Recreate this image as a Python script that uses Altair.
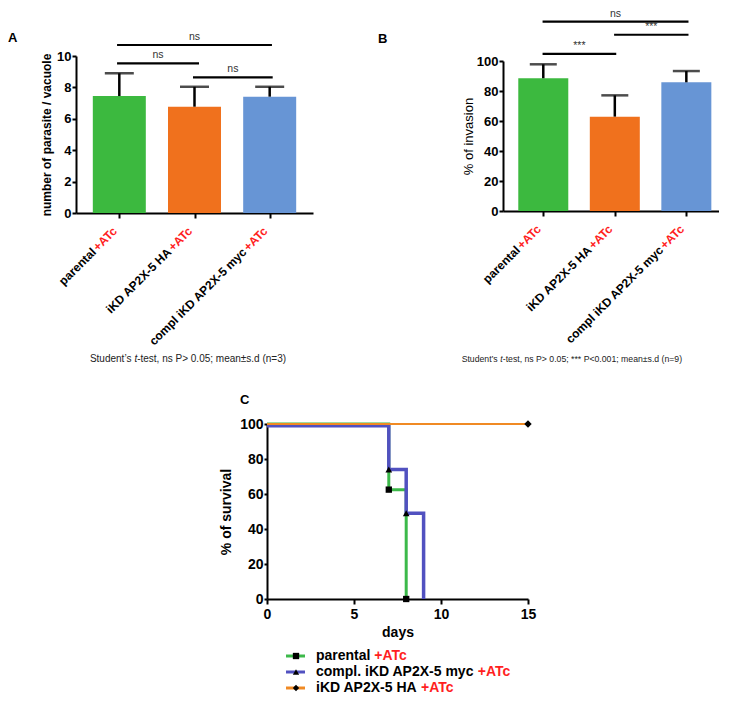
import altair as alt
import pandas as pd

FONT = "Liberation Sans"
RED = "#ff1f1f"

# ---------------- data ----------------
groups = ["parental", "iKD AP2X-5 HA", "compl iKD AP2X-5 myc"]
positions = [0, 1, 2]
suffix = "+ATc"
bar_colors = ["#3cb93f", "#f0711d", "#6795d5"]

a_mean = [7.45, 6.77, 7.41]
a_sd = [1.45, 1.27, 0.63]
a_ticks = [0, 2, 4, 6, 8, 10]

b_mean = [88.5, 62.9, 85.8]
b_sd = [9.3, 14.2, 7.5]
b_ticks = [0, 20, 40, 60, 80, 100]

a_sig_from = [-0.03, -0.03, 0.98]
a_sig_to = [2.03, 1.06, 2.04]
a_sig_y = [10.70, 9.53, 8.64]
a_sig_text = ["ns", "ns", "ns"]

b_sig_from = [-0.01, 0.99, -0.01]
b_sig_to = [1.02, 2.03, 2.03]
b_sig_y = [104.7, 117.5, 126.3]
b_sig_text = ["***", "***", "ns"]

a_caption = ["Student\u2019s ", "t", "-test, ns P> 0.05; mean\u00b1s.d (n=3)"]
b_caption = ["Student\u2019s ", "t", "-test, ns P> 0.05; *** P<0.001; mean\u00b1s.d (n=9)"]

surv_names = ["parental", "compl. iKD AP2X-5 myc", "iKD AP2X-5 HA"]
surv_colors = ["#3cb94a", "#5151c0", "#f08a24"]
surv_shapes = ["square", "triangle-up", "diamond"]
surv_sizes = [40, 45, 55]
surv_widths = [3, 3.5, 2.2]
parental_day = [0, 7, 8]
parental_pct = [100, 62.5, 0]
parental_mark = [0, 1, 1]
compl_day = [0, 7, 8, 9]
compl_pct = [99, 74, 49, 0]
compl_mark = [0, 1, 1, 0]
ikd_day = [0, 15]
ikd_pct = [100, 100]
ikd_mark = [0, 1]
c_xticks = [0, 5, 10, 15]
c_yticks = [0, 20, 40, 60, 80, 100]

# Arial / Liberation Sans advance widths (per 1000 em)
BOLD = {' ': 278, '+': 584, '-': 333, '.': 278, '2': 556, '5': 556, 'A': 722,
        'D': 722, 'H': 722, 'K': 722, 'P': 667, 'T': 611, 'X': 667, 'a': 556,
        'c': 556, 'e': 556, 'i': 278, 'l': 278, 'm': 889, 'n': 611, 'o': 611,
        'p': 611, 'r': 389, 't': 333, 'y': 556}
REG = {' ': 278, '*': 389, '(': 333, ')': 333, ',': 278, '-': 333, '.': 278,
       '0': 556, '1': 556, '3': 556, '5': 556, '9': 556, ';': 278, '<': 584,
       '=': 584, '>': 584, 'P': 667, 'S': 667, 'a': 556, 'd': 556, 'e': 556,
       'm': 833, 'n': 556, 's': 500, 't': 278, 'u': 556, '\u2019': 222, '\u00b1': 549}


def text_width(s, table, size):
    return sum(table.get(ch, 556) for ch in s) * size / 1000.0


def one_row():
    return pd.DataFrame({"k": [0]})


def anchor(x1, y1, x2, y2):
    return alt.Chart(one_row()).mark_rule(opacity=0, strokeWidth=0.1).encode(
        x=alt.value(x1), y=alt.value(y1), x2=alt.value(x2), y2=alt.value(y2))


def letter(ch, x, y):
    return alt.Chart(one_row()).mark_text(
        text=ch, align="left", baseline="alphabetic", font=FONT, fontSize=13,
        fontWeight="bold", color="black").encode(x=alt.value(x), y=alt.value(y))


def caption_layers(parts, size, center, base):
    widths = [text_width(p, REG, size) for p in parts]
    start = center - sum(widths) / 2
    layers = []
    for i, part in enumerate(parts):
        layers.append(alt.Chart(one_row()).mark_text(
            text=part, align="left", baseline="alphabetic", font=FONT, fontSize=size,
            color="#222", fontStyle="italic" if i == 1 else "normal").encode(
            x=alt.value(start + sum(widths[:i])), y=alt.value(base)))
    return layers


def bar_panel(mean, sd, sig_from, sig_to, sig_y, sig_text, ymax, yticks, ytitle,
              title_weight, title_size, title_pad, xdomain, width, height, yrange,
              barw, capw, let, let_pos, caption, cap_size, cap_center, cap_base, anc):
    df = pd.DataFrame({"pos": positions, "group": groups, "mean": mean,
                       "upper": [m + s for m, s in zip(mean, sd)],
                       "zero": [0, 0, 0], "suffix": [suffix] * 3})
    sig = pd.DataFrame({"x1": sig_from, "x2": sig_to, "y": sig_y, "label": sig_text})
    sig["mid"] = (sig["x1"] + sig["x2"]) / 2
    xs = alt.Scale(domain=xdomain, nice=False, zero=False)
    if yrange:
        ys = alt.Scale(domain=[0, ymax], nice=False, zero=True, range=yrange)
    else:
        ys = alt.Scale(domain=[0, ymax], nice=False, zero=True)
    xaxis = alt.Axis(values=positions, labels=False, title="", tickSize=5, tickWidth=2,
                     tickColor="black", domainColor="black", domainWidth=2, grid=False)
    yaxis = alt.Axis(values=yticks, title=ytitle, titleFont=FONT, titleFontSize=title_size,
                     titleFontWeight=title_weight, titleColor="black", titlePadding=title_pad,
                     labelFont=FONT, labelFontSize=13, labelFontWeight="bold",
                     labelColor="black", labelPadding=1, labelFlush=False, tickSize=4,
                     tickWidth=2, tickColor="black", domainColor="black", domainWidth=2,
                     grid=False)

    def X(f):
        return alt.X(f, scale=xs, axis=xaxis)

    def Y(f, **kw):
        return alt.Y(f, scale=ys, axis=yaxis, **kw)

    base = alt.Chart(df)
    bars = base.mark_bar(width=barw, orient="vertical").encode(
        x=X("pos:Q"), y=Y("mean:Q", stack=None),
        color=alt.Color("group:N", scale=alt.Scale(domain=groups, range=bar_colors), legend=None))
    err = base.mark_rule(strokeWidth=2.5, color="black").encode(
        x=X("pos:Q"), y=Y("mean:Q"), y2="upper:Q")
    cap = base.mark_tick(orient="horizontal", size=capw, thickness=2.5, color="black").encode(
        x=X("pos:Q"), y=Y("upper:Q"))
    sbase = alt.Chart(sig)
    sig_rules = sbase.mark_rule(strokeWidth=2.2, color="black").encode(
        x=X("x1:Q"), x2="x2:Q", y=Y("y:Q"))
    sig_lab = sbase.mark_text(font=FONT, fontSize=10.5, color="#333", baseline="alphabetic",
                              dy=-5).encode(x=X("mid:Q"), y=Y("y:Q"), text="label:N")
    sw = text_width(suffix, BOLD, 12)
    lab_red = base.mark_text(angle=315, align="right", baseline="alphabetic", dx=-14.5,
                             dy=12.4, font=FONT, fontSize=12, fontWeight="bold",
                             color=RED).encode(x=X("pos:Q"), y=Y("zero:Q"), text="suffix:N")
    lab_blk = base.mark_text(angle=315, align="right", baseline="alphabetic",
                             dx=-14.5 - sw, dy=12.4, font=FONT, fontSize=12,
                             fontWeight="bold", color="black").encode(
        x=X("pos:Q"), y=Y("zero:Q"), text="group:N")
    layers = [bars, err, cap, sig_rules, sig_lab, lab_red, lab_blk,
              letter(let, *let_pos), anchor(*anc)]
    layers += caption_layers(caption, cap_size, cap_center, cap_base)
    return alt.layer(*layers).properties(width=width, height=height)


panel_a = bar_panel(a_mean, a_sd, a_sig_from, a_sig_to, a_sig_y, a_sig_text, 10, a_ticks,
                    "number of parasite / vacuole", "bold", 12, 3,
                    [-0.5096, 2.5096], 237, 157, None, 53, 29,
                    "A", (-68, -14.3), a_caption, 10, 112, 306, (-68, -48, 240, 311))

panel_b = bar_panel(b_mean, b_sd, b_sig_from, b_sig_to, b_sig_y, b_sig_text, 100, b_ticks,
                    "% of invasion", "normal", 13, 1,
                    [-0.4933, 2.3867], 216, 155, [155, 5], 50, 27,
                    "B", (-125, -13.3), b_caption, 8.7, 69, 306, (-125, -48, 216, 311))

# ---------------- panel C ----------------
C_LEFT = 191   # distance from the shared column origin to the y axis
C_W = 452
cxs = alt.Scale(domain=[0, 15], range=[C_LEFT, C_W], nice=False, zero=False)
cys = alt.Scale(domain=[0, 100], nice=False, zero=True)
c_xaxis = alt.Axis(values=c_xticks, title="days", titleFont=FONT, titleFontSize=14,
                   titleFontWeight="bold", titleColor="black", titlePadding=4,
                   labelFont=FONT, labelFontSize=14, labelFontWeight="bold",
                   labelColor="black", labelPadding=3, labelFlush=False, tickSize=5,
                   tickWidth=2, tickColor="black", domainColor="black", domainWidth=2,
                   grid=False)
c_yaxis = alt.Axis(values=c_yticks, title="% of survival", titleFont=FONT, titleFontSize=14,
                   titleFontWeight="bold", titleColor="black", titlePadding=6,
                   labelFont=FONT, labelFontSize=14, labelFontWeight="bold",
                   labelColor="black", labelPadding=1, labelFlush=False, tickSize=3,
                   tickWidth=2, tickColor="black", domainColor="black", domainWidth=2,
                   grid=False, offset=-C_LEFT)

series_data = [
    (parental_day, parental_pct, parental_mark),
    (compl_day, compl_pct, compl_mark),
    (ikd_day, ikd_pct, ikd_mark),
]
c_layers = []
for i, (d, p, m) in enumerate(series_data):
    sdf = pd.DataFrame({"day": d, "pct": p, "mark": m, "series": surv_names[i]})
    c_layers.append(alt.Chart(sdf).mark_line(
        interpolate="step-after", strokeWidth=surv_widths[i], color=surv_colors[i]).encode(
        x=alt.X("day:Q", scale=cxs, axis=c_xaxis),
        y=alt.Y("pct:Q", scale=cys, axis=c_yaxis),
        order="day:Q"))
for i, (d, p, m) in enumerate(series_data):
    sdf = pd.DataFrame({"day": d, "pct": p, "mark": m, "series": surv_names[i]})
    c_layers.append(alt.Chart(sdf).transform_filter("datum.mark == 1").mark_point(
        filled=True, shape=surv_shapes[i], size=surv_sizes[i], color="black",
        opacity=1).encode(
        x=alt.X("day:Q", scale=cxs, axis=c_xaxis),
        y=alt.Y("pct:Q", scale=cys, axis=c_yaxis)))
c_layers.append(letter("C", 164, -20))
c_layers.append(anchor(0, -51, 0, 218))
panel_c = alt.layer(*c_layers).properties(width=C_W, height=175)

# ---------------- legend ----------------
LEG_X = 210
leg_df = pd.DataFrame({
    "series": surv_names,
    "label": surv_names,
    "suffix": [suffix] * 3,
    "redx": [LEG_X + 30 + text_width(n + " ", BOLD, 14) for n in surv_names],
})
LY = alt.Y("series:N", scale=alt.Scale(domain=surv_names), axis=None)
lbase = alt.Chart(leg_df)
leg_layers = []
for i, name in enumerate(surv_names):
    leg_layers.append(lbase.transform_filter(alt.datum.series == name).mark_rule(
        strokeWidth=3, color=surv_colors[i]).encode(
        x=alt.value(LEG_X), x2=alt.value(LEG_X + 19), y=LY))
for i, name in enumerate(surv_names):
    leg_layers.append(lbase.transform_filter(alt.datum.series == name).mark_point(
        filled=True, color="black", opacity=1, size=40, shape=surv_shapes[i]).encode(
        x=alt.value(LEG_X + 10), y=LY))
leg_layers.append(lbase.mark_text(align="left", baseline="middle", font=FONT, fontSize=14,
                                  fontWeight="bold", color="black").encode(
    x=alt.value(LEG_X + 30), y=LY, text="label:N"))
leg_layers.append(lbase.mark_text(align="left", baseline="middle", font=FONT, fontSize=14,
                                  fontWeight="bold", color=RED).encode(
    x=alt.X("redx:Q", scale=None, axis=None), y=LY, text="suffix:N"))
leg_layers.append(anchor(0, 0, 0, 48))
legend = alt.layer(*leg_layers).properties(width=460, height=48)

row1 = alt.hconcat(panel_a, panel_b, spacing=62)
chart = alt.vconcat(row1, panel_c, legend, spacing=6).properties(padding=0).configure_view(
    strokeWidth=0)

chart.save("out.html", embed_options={"renderer": "svg", "actions": False})
